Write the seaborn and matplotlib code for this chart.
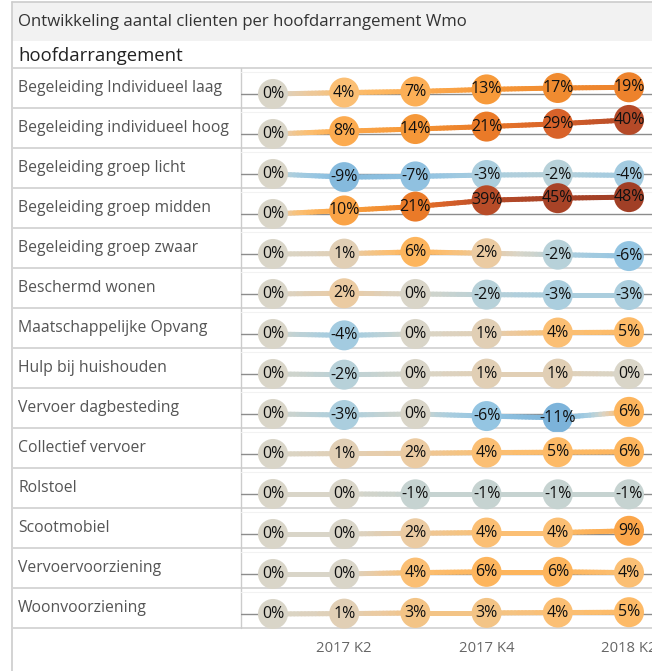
"""
Ontwikkeling aantal clienten per hoofdarrangement Wmo - sparkline table.
"""

import numpy as np
import pandas as pd
import matplotlib
matplotlib.use("Agg")
import matplotlib.pyplot as plt
import seaborn as sns
from matplotlib.colors import LinearSegmentedColormap, Normalize
from matplotlib.collections import LineCollection
from matplotlib.lines import Line2D
from matplotlib.patches import Rectangle

# --- data -------------------------------------------------------------------
quarters = ["2017 K1", "2017 K2", "2017 K3", "2017 K4", "2018 K1", "2018 K2"]
arrangements = [
    "Begeleiding Individueel laag",
    "Begeleiding individueel hoog",
    "Begeleiding groep licht",
    "Begeleiding groep midden",
    "Begeleiding groep zwaar",
    "Beschermd wonen",
    "Maatschappelijke Opvang",
    "Hulp bij huishouden",
    "Vervoer dagbesteding",
    "Collectief vervoer",
    "Rolstoel",
    "Scootmobiel",
    "Vervoervoorziening",
    "Woonvoorziening",
]
begeleiding_ind_laag = [0, 4, 7, 13, 17, 19]
begeleiding_ind_hoog = [0, 8, 14, 21, 29, 40]
begeleiding_groep_licht = [0, -9, -7, -3, -2, -4]
begeleiding_groep_midden = [0, 10, 21, 39, 45, 48]
begeleiding_groep_zwaar = [0, 1, 6, 2, -2, -6]
beschermd_wonen = [0, 2, 0, -2, -3, -3]
maatschappelijke_opvang = [0, -4, 0, 1, 4, 5]
hulp_huishouden = [0, -2, 0, 1, 1, 0]
vervoer_dagbesteding = [0, -3, 0, -6, -11, 6]
collectief_vervoer = [0, 1, 2, 4, 5, 6]
rolstoel = [0, 0, -1, -1, -1, -1]
scootmobiel = [0, 0, 2, 4, 4, 9]
vervoervoorziening = [0, 0, 4, 6, 6, 4]
woonvoorziening = [0, 1, 3, 3, 4, 5]

series = [begeleiding_ind_laag, begeleiding_ind_hoog, begeleiding_groep_licht,
          begeleiding_groep_midden, begeleiding_groep_zwaar, beschermd_wonen,
          maatschappelijke_opvang, hulp_huishouden, vervoer_dagbesteding,
          collectief_vervoer, rolstoel, scootmobiel, vervoervoorziening,
          woonvoorziening]

df = pd.DataFrame([
    {"arrangement": a, "q": i, "kwartaal": quarters[i], "pct": v}
    for a, vals in zip(arrangements, series) for i, v in enumerate(vals)
])

# --- colours (orange-blue diverging, grey-beige at 0) ---------------------------
anchors = [(-12, "#78b0d8"), (-9, "#86bbdd"), (-6, "#95c5e2"), (-4, "#a3cbe0"),
           (-3, "#abcede"), (-2, "#b9d1d8"), (-1, "#c9d3cf"), (0, "#d9d5c8"),
           (1, "#e2cfb4"), (2, "#eccaa0"), (3, "#f3c487"), (4, "#fbbf74"),
           (5, "#fdba66"), (6, "#fdb45c"), (9, "#fba64a"), (13, "#f79a3a"),
           (17, "#f08b30"), (21, "#ea7a28"), (29, "#d8622a"), (40, "#b54a28"),
           (48, "#a13f26")]
vmin, vmax = anchors[0][0], anchors[-1][0]
cmap = LinearSegmentedColormap.from_list(
    "orbl", [((v - vmin) / (vmax - vmin), c) for v, c in anchors])
norm = Normalize(vmin, vmax)

# --- layout -----------------------------------------------------------------
W, H = 652, 671
fig = plt.figure(figsize=(W / 100, H / 100), dpi=100)
sns.set_style("white")
plt.rcParams["font.family"] = ["Open Sans", "DejaVu Sans"]


def fx(px):
    return px / W


def fy(py):
    return 1 - py / H


border = "#cccccc"
sep = "#d6d6d6"
left, split, right = 12, 241, 652
row_top, row_h = 68, 40

# title bar
fig.add_artist(Rectangle((fx(left), fy(41)), fx(right - left), fy(2) - fy(41),
                         transform=fig.transFigure, facecolor="#f2f2f2",
                         edgecolor="none", zorder=0.2))
fig.add_artist(Line2D([fx(left), fx(right)], [fy(2), fy(2)], transform=fig.transFigure,
                      color=border, lw=1.2, zorder=0.5))
fig.add_artist(Line2D([fx(left), fx(left)], [fy(2), fy(H)], transform=fig.transFigure,
                      color=border, lw=1.2, zorder=0.5))
fig.text(fx(18), fy(22), "Ontwikkeling aantal clienten per hoofdarrangement Wmo",
         fontsize=12.1, color="#333333", va="center", ha="left")
fig.text(fx(18), fy(56), "hoofdarrangement", fontsize=13.3, color="#222222",
         va="center", ha="left")

n = len(arrangements)
for k in range(n + 1):
    yy = fy(row_top + k * row_h)
    fig.add_artist(Line2D([fx(left), fx(right)], [yy, yy], transform=fig.transFigure,
                          color=sep, lw=1.4, zorder=0.5))
fig.add_artist(Line2D([fx(split), fx(split)], [fy(row_top), fy(row_top + n * row_h)],
                      transform=fig.transFigure, color=border, lw=1.0, zorder=0.5))

marker_s = (30 * 0.72) ** 2
line_w = 5 * 0.72

for k, name in enumerate(arrangements):
    top = row_top + k * row_h
    fig.text(fx(18), fy(top + 20), name, fontsize=11.3, color="#555555",
             va="center", ha="left")

    ax = fig.add_axes([fx(split), fy(top + row_h), fx(right - split), row_h / H])
    ax.set_zorder(1)
    ax.patch.set_alpha(0)
    sub = df[df["arrangement"] == name]
    x = sub["q"].to_numpy(dtype=float)
    y = sub["pct"].to_numpy(dtype=float)

    ax.axhline(0, color="#8c8c8c", lw=1.0, zorder=1)
    ax.axhline(62, color="#f2f2f2", lw=0.8, zorder=0.5)

    # gradient connecting line
    segs, cols = [], []
    for i in range(len(x) - 1):
        t = np.linspace(0, 1, 21)
        xs = x[i] + (x[i + 1] - x[i]) * t
        ys = y[i] + (y[i + 1] - y[i]) * t
        for j in range(20):
            segs.append([(xs[j], ys[j]), (xs[j + 1], ys[j + 1])])
            cols.append(cmap(norm((ys[j] + ys[j + 1]) / 2)))
    lc = LineCollection(segs, colors=cols, linewidths=line_w, capstyle="round",
                        zorder=2, clip_on=False)
    ax.add_collection(lc)

    sns.scatterplot(data=sub, x="q", y="pct", hue="pct", palette=cmap, hue_norm=norm,
                    s=marker_s, edgecolor="none", legend=False, ax=ax,
                    zorder=3, clip_on=False)
    for xi, yi in zip(x, y):
        ax.text(xi, yi, f"{int(yi)}%", ha="center", va="center", fontsize=11.5,
                color="#111111", zorder=4, clip_on=False)

    ax.set_xlim(-0.449, 5.323)
    ax.set_ylim(-40, 74)
    ax.set_xlabel("")
    ax.set_ylabel("")
    ax.set_yticks([])
    for s in ax.spines.values():
        s.set_visible(False)
    if k == n - 1:
        ax.set_xticks([1, 3, 5])
        ax.set_xticklabels([quarters[1], quarters[3], quarters[5]])
        ax.tick_params(axis="x", length=0, pad=9, labelsize=10.7, labelcolor="#666666")
    else:
        ax.set_xticks([])

fig.savefig("out.png", dpi=100)
plt.close(fig)
